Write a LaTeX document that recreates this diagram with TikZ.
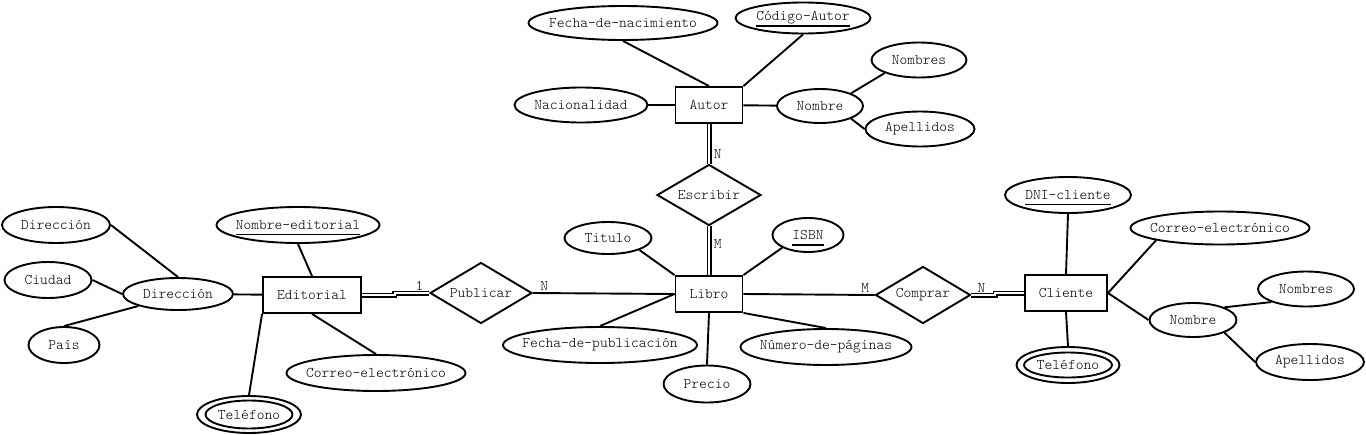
\documentclass[tikz,border=0pt]{standalone}
\usepackage{fontspec}
\setmainfont{Latin Modern Mono Light}
\usetikzlibrary{shapes.geometric}

% underlined key attribute
\newsavebox{\clavebox}
\newcommand{\clave}[1]{\sbox{\clavebox}{#1}\rlap{\smash{\rule[-6pt]{\wd\clavebox}{1.8pt}}}\usebox{\clavebox}}

\begin{document}
\begin{tikzpicture}[x=1pt, y=-1pt, line width=1.9pt,
  font=\fontsize{14.8}{17}\selectfont,
  entidad/.style 2 args={draw, rectangle, inner sep=0pt, minimum width=#1, minimum height=#2},
  relacion/.style 2 args={draw, diamond, aspect=1.7, inner sep=0pt, minimum width=#1, minimum height=#2},
  atributo/.style 2 args={draw, ellipse, inner sep=0pt, minimum width=#1, minimum height=#2},
  doble/.style={double, double distance=2pt, line width=1.5pt},
  card/.style={inner sep=1.5pt}]

  \useasboundingbox (0,0) rectangle (1366,434);

  % Autor
  \node[entidad={67}{36}] (autor) at (709,105) {Autor};
  \node[atributo={189}{34}, label=center:Fecha-de-nacimiento] (fnac) at (623,23) {};
  \node[atributo={135}{31}, label=center:{\clave{Código-Autor}}] (codaut) at (803,18) {};
  \node[atributo={133}{35}, label=center:Nacionalidad] (nacio) at (581,105) {};
  \node[atributo={86}{34}, label=center:Nombre] (nomA) at (820,106) {};
  \node[atributo={95}{35}, label=center:Nombres] (nomsA) at (919,60) {};
  \node[atributo={109}{35}, label=center:Apellidos] (apeA) at (920,129) {};

  \draw (fnac.south) -- (autor.north);
  \draw (codaut.south) -- (autor.north east);
  \draw (nacio) -- (autor);
  \draw (autor) -- (nomA);
  \draw (nomA.north east) -- (nomsA.south west);
  \draw (nomA.south east) -- (apeA.west);

  % Escribir
  \node[relacion={104}{61}] (escribir) at (709,195) {Escribir};

  % Libro
  \node[entidad={67}{36}] (libro) at (709,294) {Libro};
  \node[atributo={87}{32}, label=center:Titulo] (titulo) at (608,238) {};
  \node[atributo={71}{34}, label=center:{\clave{ISBN}}] (isbn) at (808,235) {};
  \node[atributo={194}{36}, label=center:Fecha-de-publicación] (fpub) at (600,345) {};
  \node[atributo={171}{36}, label=center:Número-de-páginas] (npag) at (826,347) {};
  \node[atributo={87}{37}, label=center:Precio] (precio) at (707,384) {};

  \draw (titulo.south east) -- (libro.north west);
  \draw (isbn.south west) -- (libro.north east);
  \draw (libro.west) -- (fpub.north);
  \draw (libro.south east) -- (npag.north);
  \draw (libro.south) -- (precio.north);

  \draw[doble] (autor.south) -- node[pos=0.76, right=2.5pt, card] {N} (escribir.north);
  \draw[doble] (escribir.south) -- node[pos=0.36, right=2.5pt, card] {M} (libro.north);

  % Editorial
  \node[entidad={98}{36}] (editorial) at (312,295) {Editorial};
  \node[atributo={163}{36}, label=center:{\clave{Nombre-editorial}}] (nedit) at (298,225) {};
  \node[atributo={110}{32}, label=center:Dirección] (dirE) at (178,294) {};
  \node[atributo={108}{36}, label=center:Dirección] (dirA) at (56,225) {};
  \node[atributo={87}{36}, label=center:Ciudad] (ciudad) at (48,280) {};
  \node[atributo={71}{36}, label=center:País] (pais) at (64,345) {};
  \node[atributo={179}{36}, label=center:Correo-electrónico] (correoE) at (376,373) {};
  \node[atributo={104}{37}, label=center:Teléfono] (telE) at (249,414.5) {};
  \draw (telE.center) ellipse [x radius=43.5, y radius=14];

  \draw (dirA.east) -- (dirE.north);
  \draw (ciudad.east) -- (dirE.west);
  \draw (pais.north) -- (dirE.south west);
  \draw (dirE) -- (editorial);
  \draw (nedit.south) -- (editorial.north);
  \draw (editorial.south) -- (correoE.north);
  \draw (editorial.south west) -- (telE.north);

  % Publicar
  \node[relacion={102}{61}] (publicar) at (481,293) {Publicar};
  \draw[doble] (editorial.east) -- ++(33,0) |- node[pos=0.86, above, card] {1} (publicar.west);
  \draw (publicar.east) -- node[pos=0.08, above, card] {N} (libro.west);

  % Comprar
  \node[relacion={95}{57}] (comprar) at (923,295) {Comprar};
  \draw (libro.east) -- node[pos=0.93, above, card] {M} (comprar.west);

  % Cliente
  \node[entidad={82}{36}] (cliente) at (1066,293) {Cliente};
  \node[atributo={126}{36}, label=center:{\clave{DNI-cliente}}] (dni) at (1068,195) {};
  \node[atributo={179}{33}, label=center:Correo-electrónico] (correoC) at (1220,228) {};
  \node[atributo={87}{34}, label=center:Nombre] (nomC) at (1193,320) {};
  \node[atributo={96}{35}, label=center:Nombres] (nomsC) at (1306,289) {};
  \node[atributo={108}{36}, label=center:Apellidos] (apeC) at (1310,362) {};
  \node[atributo={103}{36}, label=center:Teléfono] (telC) at (1068,365) {};
  \draw (telC.center) ellipse [x radius=44, y radius=12.5];

  \draw[doble] (comprar.east) -- node[pos=0.42, above, card] {N} ++(24,0) |- (cliente.west);
  \draw (dni.south) -- (cliente.north);
  \draw (cliente.east) -- (correoC.south west);
  \draw (cliente.east) -- (nomC.west);
  \draw (nomC.north east) -- (nomsC.south west);
  \draw (nomC.south east) -- (apeC.west);
  \draw (cliente.south) -- (telC.north);

\end{tikzpicture}
\end{document}
